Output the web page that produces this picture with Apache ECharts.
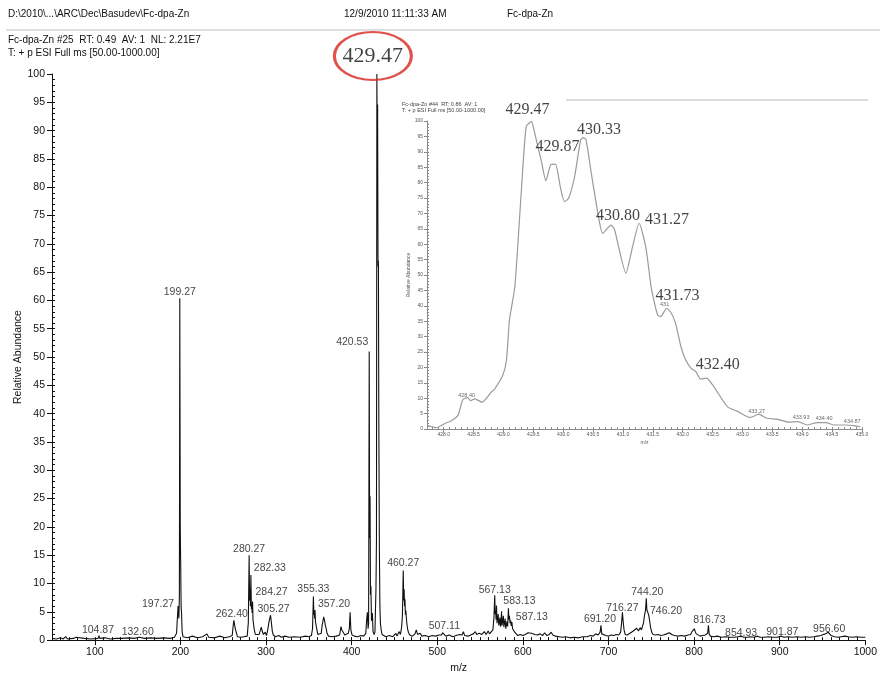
<!DOCTYPE html>
<html>
<head>
<meta charset="utf-8">
<script src="https://cdn.jsdelivr.net/npm/echarts@6/dist/echarts.min.js"></script>
<style>
  html, body { margin: 0; padding: 0; background: #fff; }
  #chart { width: 880px; height: 679px; }
</style>
</head>
<body>
<div id="chart"></div>
<script>
// ---- Full scan profile (m/z, relative abundance %) ----
const spectrum = [
  [50,0.3],[55,0.2],[60,0.4],[63,0.2],[66,0.6],[68,0.2],[75,0.3],[78,0.5],[80,0.2],[88,0.3],[95,0.2],
  [103.9,0.3],[104.87,0.8],[105.9,0.3],[112,0.4],[118,0.2],[125,0.3],[131.6,0.3],[132.6,0.5],[133.6,0.2],
  [140,0.4],[146,0.3],[152,0.5],[158,0.3],[165,0.4],[172,0.3],[180,0.4],[188,0.3],[193,0.5],
  [195.5,1.2],[196.3,3.5],[197.27,6.0],[198.2,3.8],[198.8,8],[199.27,60.4],[199.8,20],[200.27,14.2],[200.8,6],
  [201.3,4.8],[202,1.5],[203,0.6],[208,0.4],[214,0.7],[220,0.4],[226,0.6],[231,1.1],[233,0.5],[240,0.4],
  [246,0.7],[252,0.4],[257,0.6],[260.5,0.8],[261.4,2.2],[262.4,3.5],[263.4,2.6],[264.4,1.8],[265.4,1.3],
  [266.5,0.6],[270,0.5],[274,0.6],[278,0.7],[279.3,3],[280.27,15],[280.8,7],[281.3,9.2],[281.8,6],
  [282.33,11.5],[282.9,5.5],[283.3,6.3],[283.8,4.8],[284.27,6.8],[284.8,3.5],[285.3,3.2],[286.3,1.8],
  [287.5,1],[289,0.7],[292,1],[293.5,1.8],[294.5,2.3],[295.5,1.6],[297,1],[299,1.4],[300.5,0.8],[302,1.8],
  [303.3,3.1],[304.3,3.8],[305.27,4.4],[306.3,3],[307.3,1.6],[308.5,0.9],[311,0.6],[315,0.8],[318,0.5],
  [322,0.7],[327,0.5],[333,0.6],[340,0.5],[346,0.7],[350,0.6],[353,0.8],[354.3,2],[355.33,7.7],[355.9,4.5],
  [356.3,5],[356.8,3.8],[357.2,5.3],[357.8,3.2],[358.3,3],[359.3,1.9],[360.5,1],[362,0.8],[364.5,1.2],
  [365.5,2.6],[366.3,3.2],[367.3,4.1],[368.3,3.5],[369.3,2.6],[370.3,2],[371.3,1.2],[373,0.7],[377,0.6],
  [382,0.7],[386,0.9],[387.5,2.4],[388.5,1.8],[389.5,2],[390.5,1.3],[392,0.9],[394,1],[396,1.2],[397.3,2],
  [398.2,4.9],[399.1,1.8],[400.5,0.9],[403,0.7],[407,0.6],[411,0.8],[414,0.7],[416.5,1.2],[417.5,3.5],
  [418.4,4.9],[419.2,2],[419.8,3],[420.53,51],[421,18],[421.5,25.4],[422,8],[422.5,9.5],[423.2,3.4],
  [424.2,4.8],[425,1.5],[426.2,1],[427.2,1.4],[428.4,9],[429,18],[429.47,100],[429.87,86],[430.33,94.6],
  [430.8,66],[431.27,67],[431.73,39],[432.4,16],[433,6],[433.6,3],[434.5,1.8],[435.5,1],[437,0.7],
  [440,0.6],[444,0.8],[448,0.6],[451.5,1.2],[453,0.7],[455.5,1.5],[457,1],[458.3,2.2],[459.3,4.2],
  [460.27,12.3],[460.8,7],[461.3,9],[461.8,6],[462.3,7.2],[462.8,4.5],[463.3,5.2],[464.3,3.2],[465.3,2],
  [466.5,1.3],[468,0.9],[471,0.7],[474,1.1],[475.5,1.8],[477,1],[480,1.2],[482,0.7],[486,0.8],[490,0.6],
  [494,0.8],[498,0.7],[502,0.9],[505,0.9],[506.2,1.3],[507.11,1.6],[508.3,1.1],[510,0.7],[514,0.9],
  [518,0.6],[522,0.8],[526,1],[529,0.9],[530.5,1.5],[532,0.8],[536,0.7],[539,0.9],[542,1.1],[544.5,1.5],
  [546,1],[549,1.2],[552,1],[555,1.5],[557,1],[559.5,1.6],[561,1.1],[563,1.3],[565,1.8],[566.2,4],
  [567.13,7.9],[567.7,4.6],[568.2,5.2],[568.7,3.6],[569.2,6.1],[569.8,3],[570.5,3.2],[571.2,4.6],
  [571.8,2.6],[572.5,3.2],[573.2,4],[573.8,2.4],[574.4,2.8],[575.1,5.1],[575.7,2.6],[576.4,3.3],[577.2,4.3],
  [577.8,2.3],[578.5,2.6],[579.3,3.8],[580,2],[580.7,2.6],[581.4,3.3],[582.2,2.4],[583.13,5.6],[583.7,3.6],
  [584.3,4.3],[585,3],[585.7,3.5],[586.4,2.5],[587.13,3.2],[588,2],[589,1.7],[590.5,1.4],[592,1.1],
  [594,0.8],[597,1],[600,0.8],[603,1],[606,1.3],[608,1.6],[610,1.2],[612,1.5],[614,1],[617,0.9],[620,1.1],
  [623,0.8],[625.5,1.3],[628,0.8],[631,1],[633,1.4],[635,0.9],[638,0.7],[642,0.6],[646,0.5],[650,0.6],
  [655,0.4],[660,0.5],[665,0.4],[670,0.6],[675,0.6],[679,0.8],[682,0.7],[685,1.1],[688,0.9],[690.2,1.4],
  [691.2,2.6],[692.1,1.1],[694,0.8],[697,0.8],[700,0.7],[703,0.9],[706,0.8],[709,1],[712,0.9],[714.2,1.4],
  [715.3,3],[716.27,4.9],[717.2,3.2],[718.2,1.8],[719.5,1],[722,0.9],[725,1.2],[727,1.1],[729,1.6],
  [731,1.4],[733,2.1],[735,1.6],[737,2.2],[738.5,1.8],[740,2.6],[741,3.1],[742,4.3],[743.2,5.2],
  [744.2,7.4],[744.8,5.4],[745.5,5.6],[746.2,5.2],[747,4.4],[748,3.5],[749,2.4],[750.5,1.4],[752,1],
  [755,0.9],[758,1],[761,0.8],[764,0.9],[768,1.1],[771,1.3],[772.5,1.5],[774,1],[777,0.8],[781,0.7],
  [785,0.8],[789,0.7],[793,0.9],[796,1],[797.5,1.5],[799,1.8],[800.3,2],[801.3,1.5],[802.5,1.1],[804,0.8],
  [807,0.7],[810,0.8],[813,0.9],[815.8,1.2],[816.73,2.6],[817.6,1.1],[819,0.7],[823,0.6],[827,0.7],
  [832,0.5],[837,0.6],[842,0.5],[847,0.5],[851,0.6],[854.93,0.7],[858,0.5],[862,0.5],[866,0.6],[870,0.5],
  [874,0.7],[877,0.5],[882,0.5],[887,0.6],[892,0.5],[897,0.5],[901.87,0.7],[905,0.5],[910,0.6],[915,0.5],
  [920,0.6],[925,0.5],[930,0.6],[935,0.5],[940,0.6],[944,0.7],[948,0.8],[951,1],[953.5,1.1],[955,1.3],
  [956.6,1.4],[958,1.1],[960,0.8],[964,0.6],[968,0.5],[972,0.6],[976,0.7],[980,0.6],[985,0.5],[990,0.6],
  [995,0.5],[1000,0.5]
];

// Labelled peaks of the full scan
const peakMz    = [104.87,132.60,197.27,199.27,262.40,280.27,282.33,284.27,305.27,355.33,357.20,420.53,
                   460.27,507.11,567.13,583.13,587.13,691.20,716.27,744.20,746.20,816.73,854.93,901.87,956.60];
const peakAbund = [0.8,0.5,6.0,60.4,3.5,15,11.5,6.8,4.4,7.7,5.3,51,
                   12.3,1.6,7.9,5.6,3.2,2.6,4.9,7.4,5.2,2.6,0.7,0.7,1.4];
const basePeakMz = 429.47;
const basePeakAbund = 100;

// Zoomed isotope cluster (m/z, relative abundance %)
const cluster = [
  [427.72,1.2],[427.88,0.4],[428.02,1.8],[428.13,2.7],[428.24,4.5],[428.32,9.6],[428.40,10.2],[428.45,9.2],
  [428.52,9.8],[428.64,8.7],[428.80,12.1],[428.85,12.9],[428.99,17.5],[429.05,22.4],[429.10,35.4],
  [429.19,46.2],[429.30,77.6],[429.38,98.2],[429.47,99.8],[429.51,97.1],[429.63,87.3],[429.71,80.6],
  [429.79,85.8],[429.87,86.0],[429.95,78.7],[430.02,73.8],[430.09,74.9],[430.19,81.9],[430.29,93.8],
  [430.33,94.6],[430.38,94.0],[430.47,83.0],[430.59,68.9],[430.66,63.5],[430.80,66.2],[430.86,64.6],
  [431.05,50.6],[431.16,59.2],[431.27,66.8],[431.38,59.2],[431.47,46.2],[431.52,41.5],[431.58,37.0],
  [431.63,36.5],[431.73,39.2],[431.80,37.9],[431.88,34.3],[431.97,26.7],[432.05,22.4],[432.14,19.7],
  [432.22,18.6],[432.30,16.2],[432.40,16.5],[432.50,14.3],[432.75,7.2],[432.91,5.8],[433.08,4.0],
  [433.14,3.8],[433.27,4.8],[433.41,3.5],[433.58,3.2],[433.78,2.2],[433.93,2.4],[434.08,1.3],[434.25,2.1],
  [434.40,2.1],[434.53,1.3],[434.72,1.3],[434.87,1.1],[434.97,0.7]
];
const clusterMainMz    = [429.47,429.87,430.33,430.80,431.27,431.73,432.40];
const clusterMainAbund = [99.8,86.0,94.6,66.2,66.8,39.2,16.5];
const clusterMinorText  = ['428.40','431','433.27','433.93','434.40','434.87'];
const clusterMinorMz    = [428.40,431.73,433.27,433.93,434.40,434.87];
const clusterMinorAbund = [10.2,39.2,4.8,2.4,2.1,1.1];

// Tick labels
const mainXTicks  = [100,200,300,400,500,600,700,800,900,1000];
const insetXTicks = [428.0,428.5,429.0,429.5,430.0,430.5,431.0,431.5,432.0,432.5,433.0,433.5,434.0,434.5,435.0];

// ---- label placement (pixel nudges from each peak apex) ----
const mainLabelShift = {
  '104.87':[-1,2],'132.60':[15,2],'197.27':[-20,5],'199.27':[0,1],'262.40':[-2,1],'280.27':[0,1],
  '282.33':[19,1],'284.27':[19,-2],'305.27':[3,1],'355.33':[0,0],'357.20':[19,2],'420.53':[-17,-2],
  '460.27':[0,0],'507.11':[1,3],'567.13':[0,2],'583.13':[11,0],'587.13':[20,3],'691.20':[-1,1],
  '716.27':[0,3],'744.20':[1,1],'746.20':[18,8],'816.73':[1,2],'854.93':[0,4],'901.87':[1,3],'956.60':[1,4]
};
const insetMainShift = {
  '429.47':[-4,-2],'429.87':[2,-7],'430.33':[16,2],'430.80':[7,1],'431.27':[28,7],'431.73':[11,-2],'432.40':[11,-3]
};
const insetMinorShift = [[-1,2],[-2,0],[-2,1],[3,0],[-2,0],[-2,0]];

function steps(from, to, step, digits) {
  const out = [];
  const n = Math.round((to - from) / step);
  for (let i = 0; i <= n; i++) out.push(+(from + i * step).toFixed(digits));
  return out;
}

const SANS = 'Liberation Sans, Arial, sans-serif';
const SERIF = 'Liberation Serif, Times New Roman, serif';
const INK = '#111';
const GREY = '#8a8a8a';

const chart = echarts.init(document.getElementById('chart'), null, { renderer: 'canvas' });

const option = {
  animation: false,
  backgroundColor: '#fff',
  grid: [
    { left: 52, top: 74, width: 814, height: 571 },
    { left: 427, top: 121, width: 435, height: 308 }
  ],
  xAxis: [
    { // main m/z axis
      type: 'value', gridIndex: 0, min: 50, max: 1000,
      axisLine: { onZero: false, lineStyle: { color: INK, width: 1 } },
      axisTick: { customValues: mainXTicks, length: 5, lineStyle: { color: INK } },
      axisLabel: { customValues: mainXTicks, formatter: v => String(v), margin: 7,
                   fontSize: 10.5, color: INK, fontFamily: SANS },
      splitLine: { show: false },
      name: 'm/z', nameLocation: 'middle', nameGap: 22,
      nameTextStyle: { fontSize: 10.5, color: INK, fontFamily: SANS }
    },
    { // main minor ticks
      type: 'value', gridIndex: 0, min: 50, max: 1000, position: 'bottom',
      axisLine: { show: false, onZero: false },
      axisTick: { customValues: steps(60, 990, 10, 0), inside: true, length: 3, lineStyle: { color: INK } },
      axisLabel: { show: false }, splitLine: { show: false }
    },
    { // inset m/z axis
      type: 'value', gridIndex: 1, min: 427.72, max: 435.0,
      axisLine: { onZero: false, lineStyle: { color: GREY, width: 1 } },
      axisTick: { customValues: insetXTicks, length: 3, lineStyle: { color: GREY } },
      axisLabel: { customValues: insetXTicks, formatter: v => v.toFixed(1), margin: 3,
                   fontSize: 5, color: '#555', fontFamily: SANS },
      splitLine: { show: false },
      name: 'm/z', nameLocation: 'middle', nameGap: 11,
      nameTextStyle: { fontSize: 5, color: '#555', fontFamily: SANS }
    },
    { // inset minor ticks
      type: 'value', gridIndex: 1, min: 427.72, max: 435.0, position: 'bottom',
      axisLine: { show: false, onZero: false },
      axisTick: { customValues: steps(427.8, 435.0, 0.1, 1), inside: true, length: 2, lineStyle: { color: GREY } },
      axisLabel: { show: false }, splitLine: { show: false }
    }
  ],
  yAxis: [
    {
      type: 'value', gridIndex: 0, min: 0, max: 100, interval: 5, position: 'left',
      axisLine: { show: true, onZero: false, lineStyle: { color: INK, width: 1 } },
      axisTick: { show: true, length: 5, lineStyle: { color: INK } },
      axisLabel: { margin: 7, fontSize: 10.5, color: INK, fontFamily: SANS },
      splitLine: { show: false },
      name: 'Relative Abundance', nameLocation: 'middle', nameGap: 28, nameRotate: 90,
      nameMoveOverlap: false,
      nameTextStyle: { fontSize: 10.5, color: INK, fontFamily: SANS }
    },
    {
      type: 'value', gridIndex: 0, min: 0, max: 100, position: 'left',
      axisLine: { show: false, onZero: false },
      axisTick: { show: true, customValues: steps(1, 99, 1, 0), inside: true, length: 3, lineStyle: { color: INK } },
      axisLabel: { show: false }, splitLine: { show: false }
    },
    {
      type: 'value', gridIndex: 1, min: 0, max: 100, interval: 5, position: 'left',
      axisLine: { show: true, onZero: false, lineStyle: { color: GREY, width: 1 } },
      axisTick: { show: true, length: 3, lineStyle: { color: GREY } },
      axisLabel: { margin: 4, fontSize: 5, color: '#555', fontFamily: SANS },
      splitLine: { show: false },
      name: 'Relative Abundance', nameLocation: 'middle', nameGap: 16, nameRotate: 90,
      nameMoveOverlap: false,
      nameTextStyle: { fontSize: 5, color: '#555', fontFamily: SANS }
    },
    {
      type: 'value', gridIndex: 1, min: 0, max: 100, position: 'left',
      axisLine: { show: false, onZero: false },
      axisTick: { show: true, customValues: steps(1, 99, 1, 0), inside: true, length: 2, lineStyle: { color: GREY } },
      axisLabel: { show: false }, splitLine: { show: false }
    }
  ],
  series: [
    {
      name: 'Full scan', type: 'line', xAxisIndex: 0, yAxisIndex: 0,
      data: spectrum, showSymbol: false, symbol: 'none',
      lineStyle: { color: INK, width: 1.1 }, z: 3
    },
    {
      name: 'Peak labels', type: 'scatter', xAxisIndex: 0, yAxisIndex: 0,
      symbolSize: 0, silent: true,
      data: peakMz.map((m, i) => ({
        value: [m, peakAbund[i]],
        label: { offset: mainLabelShift[m.toFixed(2)] || [0, 0] }
      })),
      label: {
        show: true, position: 'top', distance: 2,
        formatter: p => p.value[0].toFixed(2),
        fontSize: 10.5, color: INK, fontFamily: SANS
      },
      z: 4
    },
    {
      name: 'Base peak', type: 'scatter', xAxisIndex: 0, yAxisIndex: 0,
      symbol: 'path://M50,0A50,50,0,1,1,50,100A50,50,0,1,1,50,0Z',
      symbolSize: [77, 48], symbolOffset: [-4, -18], silent: true,
      itemStyle: { color: 'rgba(0,0,0,0)', borderColor: '#d8261e', borderWidth: 2.5 },
      data: [[basePeakMz, basePeakAbund]],
      label: {
        show: true, position: 'inside',
        formatter: p => p.value[0].toFixed(2),
        fontSize: 22, color: INK, fontFamily: SERIF
      },
      z: 5
    },
    {
      name: 'Isotope cluster', type: 'line', xAxisIndex: 2, yAxisIndex: 2,
      data: cluster, showSymbol: false, symbol: 'none', smooth: 0.2,
      lineStyle: { color: '#9a9a9a', width: 1.2 }, z: 3
    },
    {
      name: 'Cluster labels', type: 'scatter', xAxisIndex: 2, yAxisIndex: 2,
      symbolSize: 0, silent: true,
      data: clusterMainMz.map((m, i) => ({
        value: [m, clusterMainAbund[i]],
        label: { offset: insetMainShift[m.toFixed(2)] || [0, 0] }
      })),
      label: {
        show: true, position: 'top', distance: 2,
        formatter: p => p.value[0].toFixed(2),
        fontSize: 16, color: INK, fontFamily: SERIF
      },
      z: 4
    },
    {
      name: 'Cluster minor labels', type: 'scatter', xAxisIndex: 2, yAxisIndex: 2,
      symbolSize: 0, silent: true,
      data: clusterMinorMz.map((m, i) => ({
        value: [m, clusterMinorAbund[i]],
        name: clusterMinorText[i],
        label: { offset: insetMinorShift[i] }
      })),
      label: {
        show: true, position: 'top', distance: 1,
        formatter: p => p.name,
        fontSize: 5.5, color: '#444', fontFamily: SANS
      },
      z: 4
    }
  ],
  graphic: [
    { type: 'text', left: 8, top: 9, style: { text: 'D:\\2010\\...\\ARC\\Dec\\Basudev\\Fc-dpa-Zn', fontSize: 10, fill: INK, fontFamily: SANS } },
    { type: 'text', left: 344, top: 9, style: { text: '12/9/2010 11:11:33 AM', fontSize: 10, fill: INK, fontFamily: SANS } },
    { type: 'text', left: 507, top: 9, style: { text: 'Fc-dpa-Zn', fontSize: 10, fill: INK, fontFamily: SANS } },
    { type: 'line', shape: { x1: 6, y1: 30, x2: 880, y2: 30 }, style: { stroke: '#d4d4d4', lineWidth: 1.5 } },
    { type: 'text', left: 8, top: 35, style: { text: 'Fc-dpa-Zn #25  RT: 0.49  AV: 1  NL: 2.21E7', fontSize: 10, fill: INK, fontFamily: SANS } },
    { type: 'text', left: 8, top: 48, style: { text: 'T: + p ESI Full ms [50.00-1000.00]', fontSize: 10, fill: INK, fontFamily: SANS } },
    { type: 'text', left: 402, top: 101, style: { text: 'Fc-dpa-Zn #44  RT: 0.86  AV: 1', fontSize: 5.5, fill: '#444', fontFamily: SANS } },
    { type: 'text', left: 402, top: 107, style: { text: 'T: + p ESI Full ms [50.00-1000.00]', fontSize: 5.5, fill: '#444', fontFamily: SANS } },
    { type: 'line', shape: { x1: 566, y1: 100, x2: 868, y2: 100 }, style: { stroke: '#cfcfcf', lineWidth: 1.5 } }
  ]
};

chart.setOption(option);
</script>
</body>
</html>
